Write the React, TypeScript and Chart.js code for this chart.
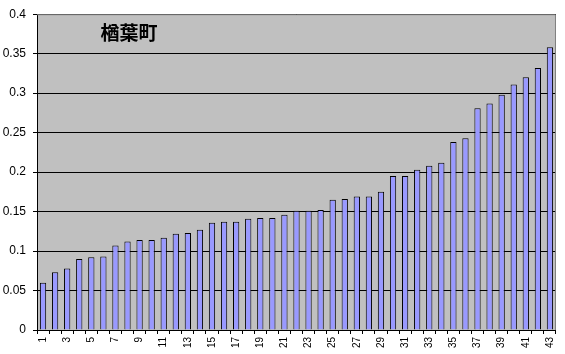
import React, { useEffect, useRef } from "react";
import { Chart, registerables } from "chart.js";

Chart.register(...registerables);

const categories: string[] = Array.from({ length: 43 }, (_, i) => String(i + 1));
const values: number[] = [
  0.060, 0.073, 0.078, 0.090, 0.092, 0.093, 0.107, 0.112, 0.114, 0.114,
  0.117, 0.122, 0.123, 0.127, 0.136, 0.137, 0.137, 0.141, 0.142, 0.142,
  0.146, 0.151, 0.151, 0.152, 0.165, 0.166, 0.169, 0.169, 0.175, 0.195,
  0.195, 0.203, 0.208, 0.212, 0.238, 0.243, 0.281, 0.287, 0.298, 0.311,
  0.320, 0.332, 0.358,
];
const titleText = "楢葉町";
const yMin = 0;
const yMax = 0.4;
const yStep = 0.05;

const plotBg = {
  id: "plotBg",
  beforeDraw(chart: any) {
    const { ctx, chartArea } = chart;
    if (!chartArea) return;
    ctx.save();
    ctx.fillStyle = "#C0C0C0";
    ctx.fillRect(chartArea.left, chartArea.top, chartArea.right - chartArea.left, chartArea.bottom - chartArea.top);
    ctx.restore();
  },
  afterDraw(chart: any) {
    const { ctx, chartArea } = chart;
    ctx.save();
    ctx.strokeStyle = "#808080";
    ctx.lineWidth = 1;
    ctx.beginPath();
    ctx.moveTo(chartArea.left, chartArea.top + 0.5);
    ctx.lineTo(chartArea.right - 0.5, chartArea.top + 0.5);
    ctx.lineTo(chartArea.right - 0.5, chartArea.bottom);
    ctx.stroke();
    ctx.fillStyle = "#000";
    ctx.font = 'bold 19px "Noto Sans CJK JP", sans-serif';
    ctx.textAlign = "center";
    ctx.textBaseline = "middle";
    ctx.fillText(titleText, 129, 33);
    ctx.restore();
  },
};

export default function App() {
  const ref = useRef<HTMLCanvasElement | null>(null);
  useEffect(() => {
    if (!ref.current) return;
    const chart = new Chart(ref.current, {
      type: "bar",
      data: {
        labels: categories,
        datasets: [
          {
            data: values,
            backgroundColor: "#9999FF",
            borderColor: "#000000",
            borderWidth: 1,
            barPercentage: 0.52,
            categoryPercentage: 1,
          },
        ],
      },
      options: {
        animation: false,
        responsive: false,
        maintainAspectRatio: false,
        layout: { padding: { top: 13, right: 5, left: 0, bottom: 0 } },
        plugins: { legend: { display: false }, tooltip: { enabled: false }, title: { display: false } },
        scales: {
          x: {
            grid: { offset: true, drawOnChartArea: false, drawTicks: true, tickLength: 4, color: "#000" },
            border: { color: "#000", width: 1 },
            ticks: {
              autoSkip: false,
              minRotation: 90,
              maxRotation: 90,
              padding: 3,
              color: "#000",
              font: { family: '"Liberation Sans", Arial, sans-serif', size: 10 },
              callback: (_v: any, i: number) => (i % 2 === 0 ? categories[i] : ""),
            },
            afterFit: (s: any) => {
              s.height = 24;
            },
          },
          y: {
            min: yMin,
            max: yMax,
            grid: { color: "#000", lineWidth: 1, drawTicks: true, tickLength: 4 },
            border: { color: "#000", width: 1 },
            ticks: {
              stepSize: yStep,
              padding: 7,
              color: "#000",
              font: { family: '"Liberation Sans", Arial, sans-serif', size: 12 },
              callback: (v: any) => String(Math.round(Number(v) * 100) / 100),
            },
            afterFit: (s: any) => {
              s.width = 37;
            },
          },
        },
      },
      plugins: [plotBg],
    });
    return () => chart.destroy();
  }, []);
  return (
    <div style={{ position: "absolute", left: 0, top: 0, width: 565, height: 354, background: "#fff" }}>
      <canvas ref={ref} width={565} height={354} />
    </div>
  );
}
